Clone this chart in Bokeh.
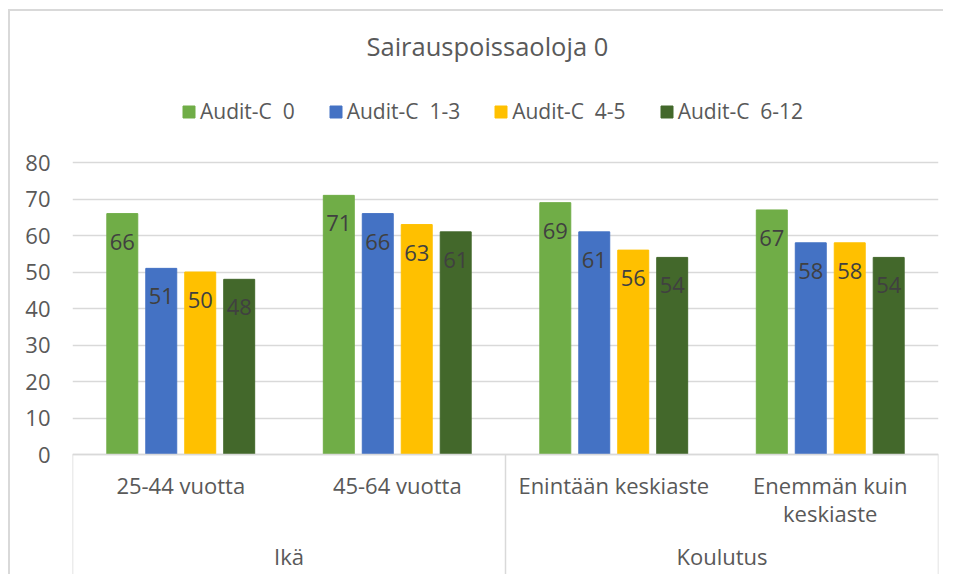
from bokeh.plotting import figure
from bokeh.models import (FactorRange, Range1d, FixedTicker, ColumnDataSource,
                          Legend, LegendItem, LabelSet)
from bokeh.core.properties import value
from bokeh.transform import dodge
from bokeh.embed import file_html
from bokeh.resources import INLINE

# ---------------- data ----------------
title_text = "Sairauspoissaoloja 0"
groups = ["Ikä", "Ikä", "Koulutus", "Koulutus"]
group_names = ["Ikä", "Koulutus"]
subgroups = ["25-44 vuotta", "45-64 vuotta", "Enintään keskiaste", "Enemmän kuin\nkeskiaste"]
series_names = ["Audit-C  0", "Audit-C  1-3", "Audit-C  4-5", "Audit-C  6-12"]
audit_0 = [66, 71, 69, 67]
audit_1_3 = [51, 66, 61, 58]
audit_4_5 = [50, 63, 56, 58]
audit_6_12 = [48, 61, 54, 54]
y_ticks = [0, 10, 20, 30, 40, 50, 60, 70, 80]

# ---------------- styling ----------------
colors = ["#70AD47", "#4472C4", "#FFC000", "#43682B"]
offsets = [-0.27, -0.09, 0.09, 0.27]
bar_width = 0.143
FONT = "Open Sans"
GRID = "#D9D9D9"
TXT = "#595959"

factors = list(zip(groups, subgroups))
series = [audit_0, audit_1_3, audit_4_5, audit_6_12]

data = {"x": factors}
for i, s in enumerate(series):
    data[f"s{i}"] = s
    data[f"l{i}"] = [str(v) for v in s]
source = ColumnDataSource(data)

x_range = FactorRange(factors=factors, group_padding=0, factor_padding=0,
                      subgroup_padding=0, range_padding=0)
y_range = Range1d(-33.42, 103.84)

p = figure(width=935, height=565, x_range=x_range, y_range=y_range,
           output_backend="svg", toolbar_location=None, tools="",
           min_border_left=62, min_border_right=7, min_border_top=64,
           min_border_bottom=0,
           styles={"margin-left": "8px", "margin-top": "9px",
                   "border-left": "2px solid #D9D9D9", "border-top": "2px solid #D9D9D9"})

p.outline_line_color = None
p.background_fill_color = "white"
p.border_fill_color = "white"

# title
p.title.text = title_text
p.title.text_font = FONT
p.title.text_font_size = "25.5px"
p.title.text_font_style = "normal"
p.title.text_color = TXT
p.title.align = "left"
p.title.offset = 294
p.title.standoff = 26

# y axis
p.yaxis.ticker = FixedTicker(ticks=y_ticks)
p.yaxis.axis_line_color = None
p.yaxis.major_tick_line_color = None
p.yaxis.minor_tick_line_color = None
p.yaxis.major_label_text_font = FONT
p.yaxis.major_label_text_font_size = "22px"
p.yaxis.major_label_text_color = TXT
p.yaxis.major_label_standoff = 16

p.ygrid.ticker = FixedTicker(ticks=y_ticks)
p.ygrid.grid_line_color = GRID
p.ygrid.grid_line_width = 1.5
p.xgrid.grid_line_color = None

# x axis drawn at y = 0 inside the (extended) frame
p.xaxis.fixed_location = 0
p.xaxis.axis_line_color = GRID
p.xaxis.axis_line_width = 1.5
p.xaxis.major_tick_line_color = None
p.xaxis.minor_tick_line_color = None
p.xaxis.separator_line_color = None
p.xaxis.major_label_text_font = FONT
p.xaxis.major_label_text_font_size = "22px"
p.xaxis.major_label_text_color = TXT
p.xaxis.major_label_text_line_height = 0.95
p.xaxis.major_label_standoff = 9
p.xaxis.major_label_orientation = "horizontal"
p.xaxis.group_text_color = None  # group names drawn below as text glyphs

# group names (top-level factors) under their blocks
p.text(x=group_names, y=[-27.9] * len(group_names), text=group_names,
       text_align="center", text_baseline="middle", text_font=value(FONT),
       text_font_size="22px", text_color=TXT)

# vertical separators for category blocks
seg_x = [(groups[0], subgroups[0], -0.5), (groups[2], subgroups[2], -0.5), (groups[3], subgroups[3], 0.5)]
p.segment(x0=seg_x, x1=seg_x, y0=[0, 0, 0], y1=[y_range.start] * 3,
          line_color=GRID, line_width=1.5)

# bars + value labels
renderers = []
for i, s in enumerate(series):
    r = p.vbar(x=dodge("x", offsets[i], range=p.x_range), top=f"s{i}", width=bar_width,
               source=source, fill_color=colors[i], line_color=colors[i])
    renderers.append(r)
    p.add_layout(LabelSet(x=dodge("x", offsets[i], range=p.x_range), y=f"s{i}", text=f"l{i}",
                          source=source, y_offset=-28, text_align="center",
                          text_baseline="middle", text_font=value(FONT), text_font_size="22px",
                          text_color="#404040"))

legend = Legend(items=[LegendItem(label=n, renderers=[r]) for n, r in zip(series_names, renderers)],
                orientation="horizontal", location=(109, 451),
                glyph_width=15, glyph_height=15, label_standoff=4, spacing=33,
                padding=0, margin=0, border_line_color=None, background_fill_alpha=0,
                label_text_font=FONT, label_text_font_size="21px", label_text_color=TXT)
p.add_layout(legend)

open("out.html", "w").write(file_html(p, INLINE))
